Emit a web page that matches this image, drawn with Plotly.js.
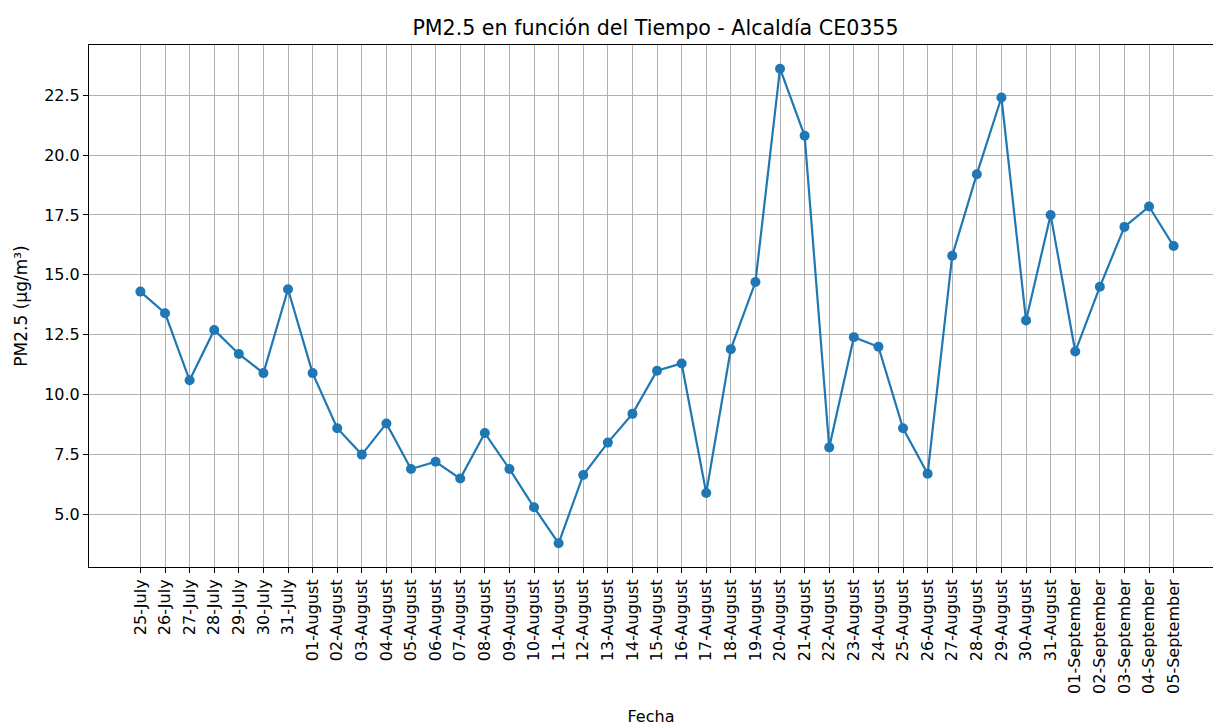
<!DOCTYPE html>
<html>
<head>
<meta charset="utf-8">
<script src="https://cdn.plot.ly/plotly-3.0.1.min.js"></script>
<style>html,body{margin:0;padding:0;background:#fff;}</style>
</head>
<body>
<div id="chart" style="width:1213px;height:726px;"></div>
<script>
const fechas = [
  "25-July","26-July","27-July","28-July","29-July","30-July","31-July",
  "01-August","02-August","03-August","04-August","05-August","06-August","07-August",
  "08-August","09-August","10-August","11-August","12-August","13-August","14-August",
  "15-August","16-August","17-August","18-August","19-August","20-August","21-August",
  "22-August","23-August","24-August","25-August","26-August","27-August","28-August",
  "29-August","30-August","31-August",
  "01-September","02-September","03-September","04-September","05-September"
];
const pm25 = [
  14.3, 13.4, 10.6, 12.7, 11.7, 10.9, 14.4,
  10.9, 8.6, 7.5, 8.8, 6.9, 7.2, 6.5,
  8.4, 6.9, 5.3, 3.8, 6.65, 8.0, 9.2,
  11.0, 11.3, 5.9, 11.9, 14.7, 23.6, 20.8,
  7.8, 12.4, 12.0, 8.6, 6.7, 15.8, 19.2,
  22.4, 13.1, 17.5,
  11.8, 14.5, 17.0, 17.85, 16.2
];
const yTicks = [5.0, 7.5, 10.0, 12.5, 15.0, 17.5, 20.0, 22.5];
const yTickText = ["5.0","7.5","10.0","12.5","15.0","17.5","20.0","22.5"];

const ymin = Math.min(...pm25), ymax = Math.max(...pm25);
const pad = 0.05 * (ymax - ymin);

const fontFam = "DejaVu Sans, sans-serif";

const trace = {
  x: fechas,
  y: pm25,
  type: "scatter",
  mode: "lines+markers",
  line: {color: "#1f77b4", width: 2.2},
  marker: {color: "#1f77b4", size: 10},
  showlegend: false,
  hoverinfo: "x+y"
};

const layout = {
  width: 1213,
  height: 726,
  paper_bgcolor: "#ffffff",
  plot_bgcolor: "#ffffff",
  margin: {l: 89, r: 0, t: 45, b: 159, pad: 0},
  font: {family: fontFam, color: "#000000", size: 16},
  title: {
    text: "PM2.5 en función del Tiempo - Alcaldía CE0355",
    font: {family: fontFam, size: 20.6, color: "#000000"},
    x: 0.504, xref: "paper", xanchor: "center",
    y: 1 - 28/726, yref: "container", yanchor: "middle"
  },
  xaxis: {
    type: "category",
    categoryorder: "array",
    categoryarray: fechas,
    tickmode: "array",
    tickvals: fechas,
    ticktext: fechas,
    range: [-2.09, 43.6],
    tickangle: -90,
    tickfont: {family: fontFam, size: 16, color: "#000000"},
    ticks: "outside",
    ticklen: 5,
    tickwidth: 1,
    tickcolor: "#000000",
    showgrid: true,
    gridcolor: "#b0b0b0",
    gridwidth: 1,
    showline: true,
    linecolor: "#000000",
    linewidth: 1,
    mirror: true,
    zeroline: false,
    automargin: false,
    title: {text: "Fecha", font: {family: fontFam, size: 16, color: "#000000"}, standoff: 17}
  },
  yaxis: {
    range: [ymin - pad, ymax + pad],
    tickmode: "array",
    tickvals: yTicks,
    ticktext: yTickText,
    tickfont: {family: fontFam, size: 16, color: "#000000"},
    ticks: "outside",
    ticklen: 5,
    tickwidth: 1,
    tickcolor: "#000000",
    showgrid: true,
    gridcolor: "#b0b0b0",
    gridwidth: 1,
    showline: true,
    linecolor: "#000000",
    linewidth: 1,
    zeroline: false,
    automargin: false,
    title: {text: "PM2.5 (µg/m³)", font: {family: fontFam, size: 17, color: "#000000"}, standoff: 12}
  }
};

Plotly.newPlot("chart", [trace], layout, {displayModeBar: false, staticPlot: true});
</script>
</body>
</html>
